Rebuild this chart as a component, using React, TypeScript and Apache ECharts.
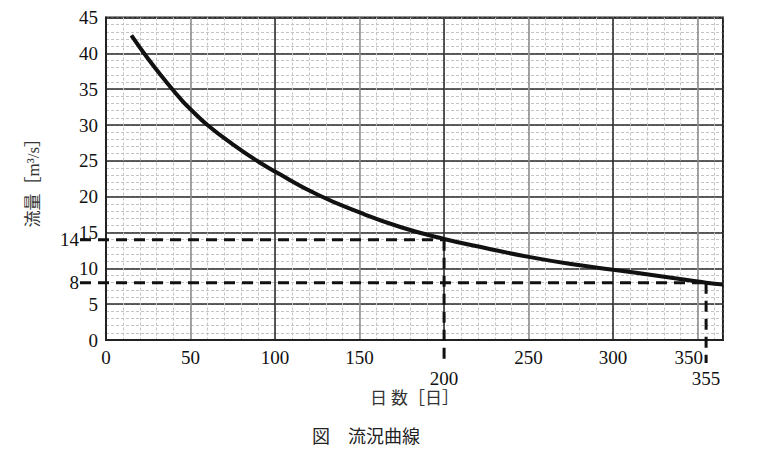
import React, { useEffect, useRef } from "react";
import * as echarts from "echarts";

const days = [15, 25, 35, 45, 50, 60, 75, 90, 100, 125, 150, 175, 200, 225, 250, 275, 300, 325, 350, 355, 365];
const flow = [42.5, 39.2, 36.2, 33.4, 32.2, 30.0, 27.3, 24.9, 23.5, 20.3, 17.8, 15.7, 14.1, 12.8, 11.6, 10.6, 9.8, 9.0, 8.15, 8.0, 7.75];
const refPoints = [
  { day: 200, flow: 14 },
  { day: 355, flow: 8 },
];
const xMax = 365;
const yMax = 45;

const serif = "'Liberation Serif', 'Noto Sans CJK JP', serif";

export default function App() {
  const ref = useRef<HTMLDivElement>(null);
  useEffect(() => {
    const chart = echarts.init(ref.current!, null, { renderer: "svg" });
    const minorLine = { show: true, lineStyle: { color: "#c4c4c4", width: 1, type: [3, 2] } };
    const hidden = { axisLine: { show: false }, axisTick: { show: false }, axisLabel: { show: false } };
    const refDays = refPoints.map((p) => p.day);
    chart.setOption({
      animation: false,
      backgroundColor: "#fff",
      grid: { left: 98, right: 53, top: 7, bottom: 118, show: true, borderColor: "#222", borderWidth: 2, backgroundColor: "transparent" },
      xAxis: [
        { type: "value", min: 0, max: xMax, interval: 10, position: "bottom", ...hidden, splitLine: minorLine },
        {
          type: "value", min: 0, max: xMax, interval: 50, position: "bottom",
          name: "日 数［日］", nameLocation: "middle", nameGap: 50,
          nameTextStyle: { fontFamily: serif, fontSize: 17, color: "#333" },
          axisLine: { show: true, lineStyle: { color: "#222", width: 2 } },
          axisTick: { show: false },
          axisLabel: {
            fontFamily: serif, fontSize: 19, color: "#111", margin: 8, showMaxLabel: false,
            formatter: (v: number) => (refDays.includes(v) ? "" : v === 350 ? "{s|350}" : String(v)),
            rich: { s: { fontFamily: serif, fontSize: 19, color: "#111", padding: [0, 18, 0, 0] } },
          },
          splitLine: { show: true, lineStyle: { color: ["#222", "#888"], width: 1.5 } },
        },
      ],
      yAxis: [
        { type: "value", min: 0, max: yMax, interval: 1, ...hidden, splitLine: minorLine, position: "left" },
        {
          type: "value", min: 0, max: yMax, interval: 5, position: "left",
          name: "流量［m³/s］", nameLocation: "middle", nameGap: 64, nameRotate: 90,
          nameTextStyle: { fontFamily: serif, fontSize: 17, color: "#333" },
          axisLine: { show: true, lineStyle: { color: "#222", width: 2 } },
          axisTick: { show: false },
          axisLabel: { fontFamily: serif, fontSize: 19, color: "#111", margin: 8 },
          splitLine: { show: true, lineStyle: { color: "#2a2a2a", width: 1.5 } },
        },
      ],
      series: [
        {
          type: "line",
          xAxisIndex: 1,
          yAxisIndex: 1,
          data: days.map((d, i) => [d, flow[i]]),
          smooth: 0.5,
          showSymbol: false,
          lineStyle: { color: "#111", width: 4 },
          z: 5,
        },
      ],
    });

    const dash = { stroke: "#111", lineWidth: 3, lineDash: [11, 7] };
    const elements: any[] = [];
    const bottomY = 355;
    refPoints.forEach((p) => {
      const [px, py] = chart.convertToPixel({ xAxisIndex: 1, yAxisIndex: 1 }, [p.day, p.flow]) as number[];
      const [x0] = chart.convertToPixel({ xAxisIndex: 1, yAxisIndex: 1 }, [0, p.flow]) as number[];
      elements.push({ type: "line", shape: { x1: x0 - 26, y1: py, x2: px, y2: py }, style: dash, z: 10 });
      elements.push({ type: "line", shape: { x1: px, y1: py, x2: px, y2: bottomY }, style: dash, z: 10 });
      elements.push({
        type: "text", x: x0 - 27, y: py, z: 11,
        style: { text: String(p.flow), font: `19px ${serif}`, fill: "#111", align: "right", verticalAlign: "middle" },
      });
      elements.push({
        type: "text", x: px, y: bottomY + 15, z: 11,
        style: { text: String(p.day), font: `19px ${serif}`, fill: "#111", align: "center", verticalAlign: "middle" },
      });
    });
    elements.push({
      type: "text", x: 304, y: 429, z: 11,
      style: { text: "図　流況曲線", font: `18px ${serif}`, fill: "#222", verticalAlign: "middle" },
    });
    chart.setOption({ graphic: elements });

    return () => chart.dispose();
  }, []);
  return <div ref={ref} style={{ width: 768, height: 450 }} />;
}
